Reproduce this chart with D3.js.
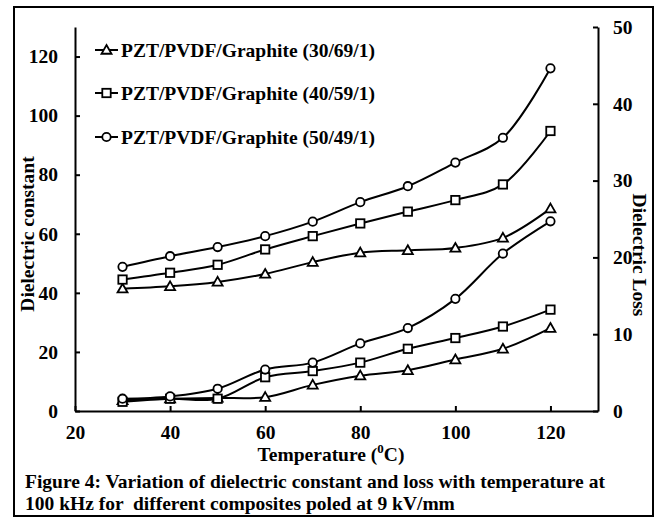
<!DOCTYPE html>
<html>
<head>
<meta charset="utf-8">
<script src="https://cdn.jsdelivr.net/npm/d3@7"></script>
<style>
  body { margin: 0; background: #fff; }
  svg { display: block; }
  text { font-family: "Liberation Serif", "Times New Roman", serif; font-weight: bold; fill: #000; }
</style>
</head>
<body>
<svg width="658" height="518"></svg>
<script>
// Temperature (°C)
const temps = [30, 40, 50, 60, 70, 80, 90, 100, 110, 120];

// Dielectric constant (left axis)
const const30 = [41.4, 42.2, 43.7, 46.4, 50.4, 53.6, 54.4, 55.2, 58.6, 68.5];
const const40 = [44.5, 46.8, 49.5, 54.7, 59.2, 63.5, 67.5, 71.4, 76.7, 94.8];
const const50 = [48.8, 52.4, 55.5, 59.2, 64.1, 70.7, 76.1, 84.1, 92.5, 116.0];

// Dielectric loss (right axis)
const loss30 = [1.4, 1.6, 1.7, 1.8, 3.4, 4.6, 5.3, 6.7, 8.1, 10.8];
const loss40 = [1.2, 1.6, 1.6, 4.4, 5.2, 6.3, 8.1, 9.5, 11.0, 13.2];
const loss50 = [1.6, 1.9, 2.9, 5.4, 6.3, 8.8, 10.8, 14.6, 20.5, 24.7];

const leftTicks = [0, 20, 40, 60, 80, 100, 120];
const rightTicks = [0, 10, 20, 30, 40, 50];
const xTicks = [20, 40, 60, 80, 100, 120];

const legendNames = [
  "PZT/PVDF/Graphite (30/69/1)",
  "PZT/PVDF/Graphite (40/59/1)",
  "PZT/PVDF/Graphite (50/49/1)"
];
const markers = ["triangle", "square", "circle"];

const fs = 19.5;
const svg = d3.select("svg");

// outer frame
svg.append("rect")
  .attr("x", 14).attr("y", 7)
  .attr("width", 639).attr("height", 509)
  .attr("fill", "none").attr("stroke", "#000").attr("stroke-width", 2);

// scales
const x = d3.scaleLinear().domain([20, 130]).range([75, 598]);
const yL = d3.scaleLinear().domain([0, 130]).range([411, 27]);
const yR = d3.scaleLinear().domain([0, 50]).range([411, 27]);

// axes
const gx = svg.append("g")
  .attr("transform", `translate(0,${yL(0)})`)
  .call(d3.axisBottom(x).tickValues(xTicks).tickSizeInner(-5).tickSizeOuter(0).tickPadding(14));

const gl = svg.append("g")
  .attr("transform", `translate(${x(20)},0)`)
  .call(d3.axisLeft(yL).tickValues(leftTicks).tickSizeInner(-5).tickSizeOuter(0).tickPadding(17));

const gr = svg.append("g")
  .attr("transform", `translate(${x(130)},0)`)
  .call(d3.axisRight(yR).tickValues(rightTicks).tickSizeInner(-5).tickSizeOuter(0).tickPadding(15));

[gx, gl, gr].forEach(g => {
  g.select(".domain").attr("stroke", "#000").attr("stroke-width", 2);
  g.selectAll(".tick line").attr("stroke", "#000").attr("stroke-width", 2);
  g.selectAll(".tick text")
    .attr("font-family", "Liberation Serif")
    .attr("font-weight", "bold")
    .attr("font-size", fs)
    .attr("fill", "#000");
});

// smoothed lines, as in the original spreadsheet chart
const series = [
  { vals: const30, y: yL, m: "triangle" },
  { vals: const40, y: yL, m: "square" },
  { vals: const50, y: yL, m: "circle" },
  { vals: loss30, y: yR, m: "triangle" },
  { vals: loss40, y: yR, m: "square" },
  { vals: loss50, y: yR, m: "circle" }
];

function drawMarker(g, type, cx, cy) {
  if (type === "circle") {
    g.append("circle").attr("cx", cx).attr("cy", cy).attr("r", 4.2)
      .attr("fill", "#fff").attr("stroke", "#000").attr("stroke-width", 1.8);
  } else if (type === "square") {
    g.append("rect").attr("x", cx - 4.2).attr("y", cy - 4.2)
      .attr("width", 8.4).attr("height", 8.4)
      .attr("fill", "#fff").attr("stroke", "#000").attr("stroke-width", 1.8);
  } else {
    const s = 5;
    g.append("path")
      .attr("d", `M${cx},${cy - s}L${cx + s},${cy + s * 0.75}L${cx - s},${cy + s * 0.75}Z`)
      .attr("fill", "#fff").attr("stroke", "#000").attr("stroke-width", 1.8);
  }
}

series.forEach(s => {
  const pts = temps.map((t, i) => [x(t), s.y(s.vals[i])]);
  const line = d3.line().curve(d3.curveCatmullRom.alpha(0.5));
  svg.append("path")
    .attr("d", line(pts))
    .attr("fill", "none")
    .attr("stroke", "#000")
    .attr("stroke-width", 2);
  const g = svg.append("g");
  pts.forEach(p => drawMarker(g, s.m, p[0], p[1]));
});

// legend
const legendY = [50, 93, 137];
legendNames.forEach((name, i) => {
  const g = svg.append("g");
  g.append("line")
    .attr("x1", 95).attr("x2", 118)
    .attr("y1", legendY[i]).attr("y2", legendY[i])
    .attr("stroke", "#000").attr("stroke-width", 2);
  drawMarker(g, markers[i], 106.5, legendY[i]);
  g.append("text")
    .attr("x", 121).attr("y", legendY[i])
    .attr("dy", "0.35em")
    .attr("font-size", fs)
    .text(name);
});

// axis titles
svg.append("text")
  .attr("transform", "translate(27,234) rotate(-90)")
  .attr("text-anchor", "middle")
  .attr("dy", "0.35em")
  .attr("font-size", fs)
  .text("Dielectric constant");

svg.append("text")
  .attr("transform", "translate(640,255) rotate(90)")
  .attr("text-anchor", "middle")
  .attr("dy", "0.35em")
  .attr("font-size", fs)
  .text("Dielectric Loss");

const xt = svg.append("text")
  .attr("x", 331).attr("y", 461)
  .attr("text-anchor", "middle")
  .attr("font-size", fs);
xt.append("tspan").text("Temperature (");
xt.append("tspan").attr("font-size", 13).attr("dy", -8).text("0");
xt.append("tspan").attr("dy", 8).text("C)");

// caption
svg.append("text")
  .attr("x", 25).attr("y", 488)
  .attr("font-size", fs)
  .text("Figure 4: Variation of dielectric constant and loss with temperature at");
svg.append("text")
  .attr("x", 25).attr("y", 510)
  .attr("font-size", fs)
  .style("white-space", "pre")
  .text("100 kHz for  different composites poled at 9 kV/mm");
</script>
</body>
</html>
